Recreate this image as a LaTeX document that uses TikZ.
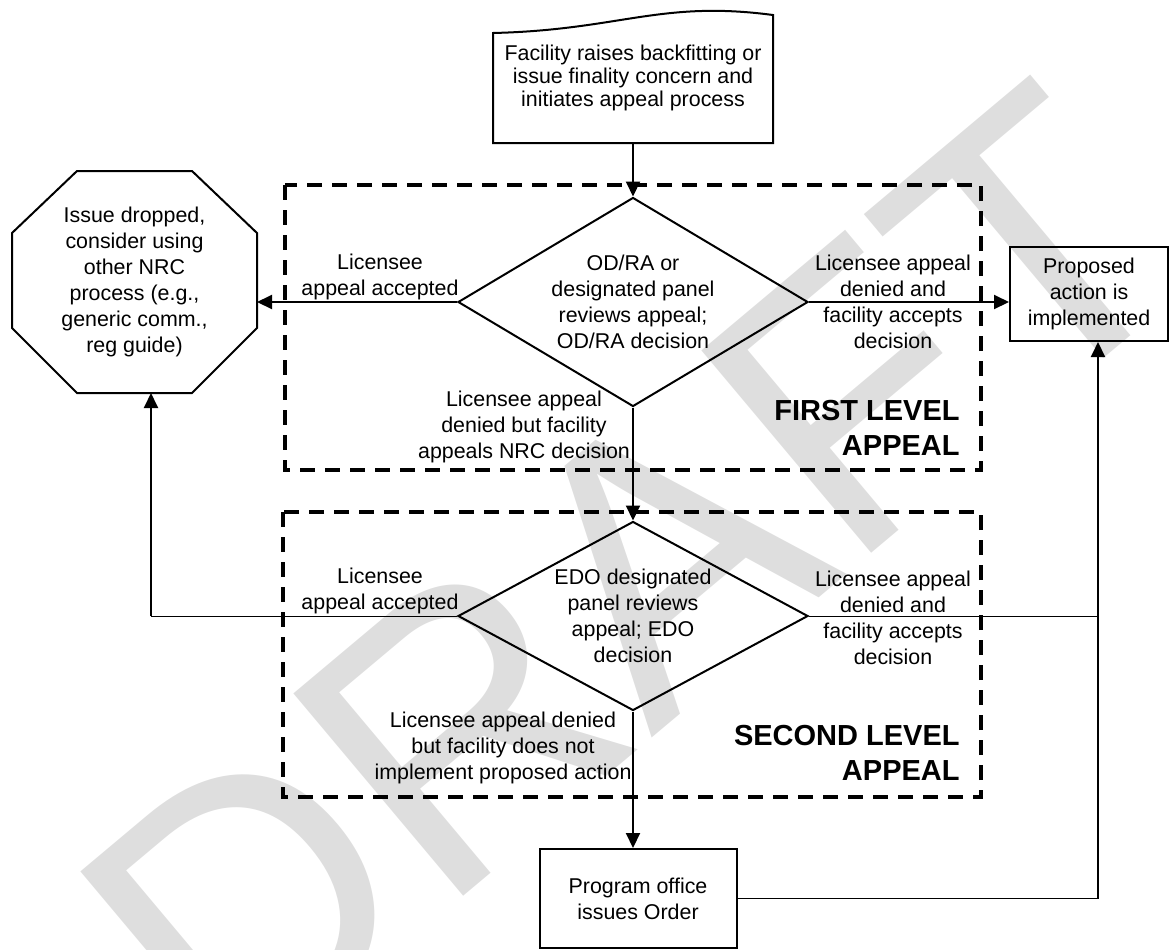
\documentclass[tikz,border=0pt]{standalone}
\usepackage{fontspec}
\setmainfont{Liberation Sans}
\usetikzlibrary{arrows.meta,shapes.geometric}

\begin{document}
\begin{tikzpicture}[x=0.5pt, y=-0.5pt,
	every node/.style={inner sep=0pt, align=center, font=\fontsize{10.7}{13}\selectfont},
	shape line/.style={line width=1pt},
	flow/.style={line width=1pt, -{Triangle[length=7.5pt, width=7pt]}},
	thin link/.style={line width=0.5pt},
	level box/.style={line width=2pt, dash pattern=on 7.5pt off 5pt},
	level title/.style={anchor=east, align=right, font=\fontsize{14.5}{17.5}\selectfont\bfseries},
	decision/.style={diamond, draw, shape line, shape aspect=1.8, minimum width=175pt}]

\path [use as bounding box] (0,0) rectangle (1173,949);

% WATERMARK
\node [rotate=40, text=black!13, font=\fontsize{192}{192}\selectfont] (draft) at (632,582) {DRAFT};

% LEVELS
\draw [level box] (285,185) rectangle (981,470);
\draw [level box] (283,512) rectangle (981,797);
\node [level title] (first) at (960,428) {FIRST LEVEL\\APPEAL};
\node [level title] (second) at (960,753) {SECOND LEVEL\\APPEAL};

% START
\node [font=\fontsize{10.7}{11.7}\selectfont] (start) at (633,78) {Facility raises backfitting or\\issue finality concern and\\initiates appeal process};
\draw [shape line] (493,143) -- (493,33) .. controls (620,30) and (660,0) .. (773,15) -- (773,143) -- cycle;
\coordinate (startS) at (633,143);

% DECISIONS
\node [decision, minimum height=104.5pt] (review1) at (633,302) {OD/RA or\\designated panel\\reviews appeal;\\OD/RA decision};
\node [decision, minimum height=94.5pt] (review2) at (633,616) {EDO designated\\panel reviews\\appeal; EDO\\decision};

% OUTCOMES
\node (drop) at (134.5,282) {Issue dropped,\\consider using\\other NRC\\process (e.g.,\\generic comm.,\\reg guide)};
\draw [shape line] (77,171) -- (192,171) -- (257,233) coordinate (dropE) -- (257,328) -- (192,393) coordinate (dropS) -- (77,393) -- (12,328) -- (12,233) -- cycle;
\node [draw, shape line, minimum width=79pt, minimum height=47pt] (done) at (1089,294) {Proposed\\action is\\implemented};
\node [draw, shape line, minimum width=98.5pt, minimum height=49.5pt] (order) at (638,898.5) {Program office\\issues Order};

% LABELS
\node (accept1) at (380,277) {Licensee\\appeal accepted};
\node (deny1) at (893,302) {Licensee appeal\\denied and\\facility accepts\\decision};
\node (escalate) at (524,427) {Licensee appeal\\denied but facility\\appeals NRC decision};
\node (accept2) at (380,591) {Licensee\\appeal accepted};
\node (deny2) at (893,618) {Licensee appeal\\denied and\\facility accepts\\decision};
\node (refuse) at (503,748) {Licensee appeal denied\\but facility does not\\implement proposed action};

% CONNECTORS
\coordinate (back) at (151,616);
\coordinate (join) at (1098,616);
\draw [flow] (startS) -- (review1.north);
\draw [flow] (review1.west) -- (review1.west -| dropE);
\draw [flow] (review1.east) -- (review1.east -| done.west);
\draw [flow] (review1.south) -- (review2.north);
\draw [thin link] (review2.west) -- (back);
\draw [flow] (back) -- (back |- dropS);
\draw [thin link] (review2.east) -- (review2.east -| join);
\draw [flow] (review2.south) -- (review2.south |- order.north);
\draw [thin link] (order.east) -- (order.east -| join);
\draw [flow] (order.east -| join) -- (join |- done.south);

\end{tikzpicture}
\end{document}
